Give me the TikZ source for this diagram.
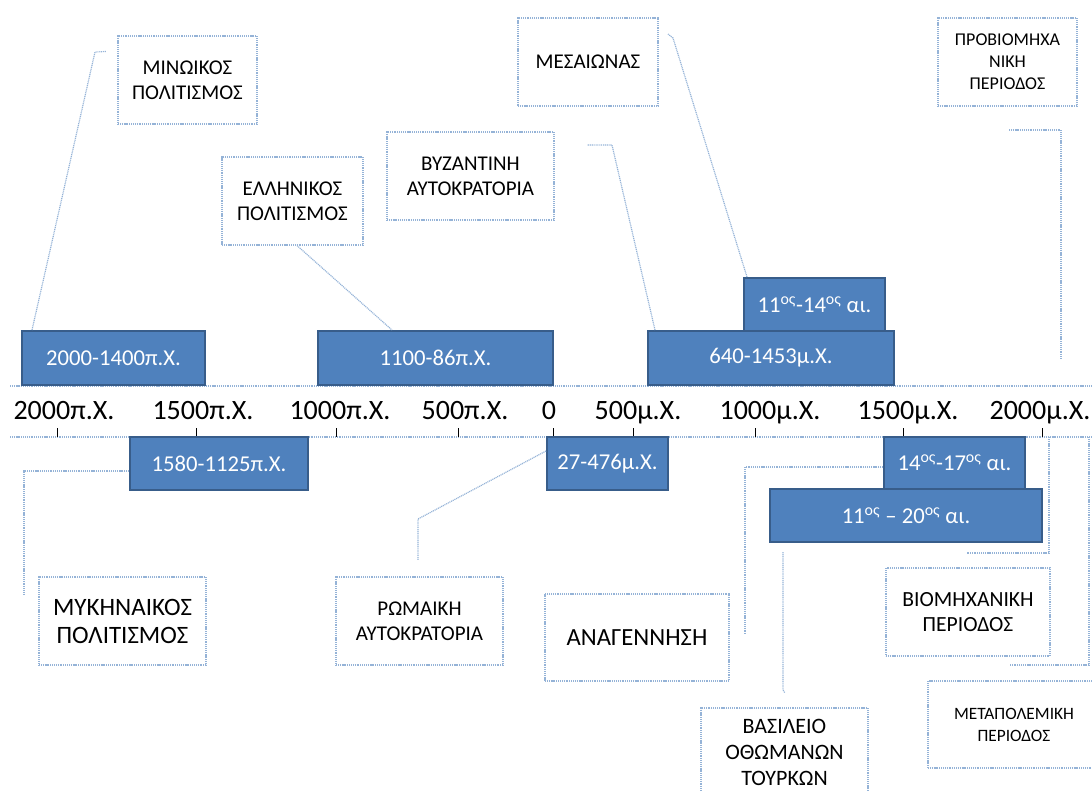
\documentclass[tikz,border=0pt]{standalone}
\usepackage{fontspec}
\setmainfont{Carlito}
\usetikzlibrary{calc}
\definecolor{barfill}{RGB}{79,129,189}
\definecolor{barline}{RGB}{56,93,138}
\definecolor{dotline}{RGB}{149,179,215}

\begin{document}
\begin{tikzpicture}[x=0.75pt,y=-0.75pt,
  size/.style 2 args={minimum width=#1*0.75pt, minimum height=#2*0.75pt},
  bar/.style={draw=barline, line width=1.5pt, fill=barfill, text=white,
    inner sep=0pt, font=\fontsize{17}{19}\selectfont},
  era/.style={draw=dotline, line width=0.8pt, dash pattern=on 0.8pt off 0.6pt,
    fill=white, align=center, inner sep=0pt,
    font=\fontsize{15.75}{18.75}\selectfont},
  link/.style={draw=dotline, line width=0.9pt, dash pattern=on 0.8pt off 0.6pt},
  yr/.style={anchor=base, inner sep=0pt, font=\fontsize{21}{25}\selectfont},
  tickmark/.style={draw=black, line width=0.75pt}]

\useasboundingbox (0,0) rectangle (1092,790);
\clip (0,0) rectangle (1092,790);

% time axis: two dotted rails
\coordinate (railTL) at (10,386);
\coordinate (railTR) at (1092,386);
\coordinate (railBL) at (10,437);
\coordinate (railBR) at (1092,437);
\draw[link] (railTL) -- (railTR);
\draw[link] (railBL) -- (railBR);

% year labels
\node[yr] (y2000bc) at (64,419)   {2000π.Χ.};
\node[yr] (y1500bc) at (203,419)  {1500π.Χ.};
\node[yr] (y1000bc) at (340,419)  {1000π.Χ.};
\node[yr] (y500bc)  at (465,419)  {500π.Χ.};
\node[yr] (y0)      at (549,419)  {0};
\node[yr] (y500ad)  at (638,419)  {500μ.Χ.};
\node[yr] (y1000ad) at (770,419)  {1000μ.Χ.};
\node[yr] (y1500ad) at (908,419)  {1500μ.Χ.};
\node[yr] (y2000ad) at (1040,419) {2000μ.Χ.};

% tick marks
\foreach \tx in {57,196,336,458,553,633,755,903,1042}
  \draw[tickmark] (\tx,428) -- (\tx,437);

% era boxes (dotted)
\node[era, size={139}{88}] (minoan)   at (187.5,80)  {ΜΙΝΩΙΚΟΣ\\ΠΟΛΙΤΙΣΜΟΣ};
\node[era, size={141}{88}] (hellenic) at (292.5,201) {ΕΛΛΗΝΙΚΟΣ\\ΠΟΛΙΤΙΣΜΟΣ};
\node[era, size={167}{88}] (byzant)   at (470.5,176) {ΒΥΖΑΝΤΙΝΗ\\ΑΥΤΟΚΡΑΤΟΡΙΑ};
\node[era, size={140}{88}] (medieval) at (588,62)    {ΜΕΣΑΙΩΝΑΣ};
\node[era, size={139}{88}, font=\fontsize{13.5}{16.5}\selectfont]
  (preind) at (1007.5,62) {ΠΡΟΒΙΟΜΗΧΑ\\ΝΙΚΗ\\ΠΕΡΙΟΔΟΣ};
\node[era, size={167}{88}, font=\fontsize{18.75}{21}\selectfont]
  (mycen) at (122.5,621) {ΜΥΚΗΝΑΙΚΟΣ\\ΠΟΛΙΤΙΣΜΟΣ};
\node[era, size={167}{88}] (roman)    at (419.5,621) {ΡΩΜΑΙΚΗ\\ΑΥΤΟΚΡΑΤΟΡΙΑ};
\node[era, size={184}{87}, font=\fontsize{18.5}{21}\selectfont]
  (renaiss) at (637,637.5) {ΑΝΑΓΕΝΝΗΣΗ};
\node[era, size={164}{88}, font=\fontsize{16.2}{18.75}\selectfont]
  (indust) at (968,612) {ΒΙΟΜΗΧΑΝΙΚΗ\\ΠΕΡΙΟΔΟΣ};
\node[era, size={167}{88}, font=\fontsize{16.5}{19.5}\selectfont]
  (ottoman) at (784.5,752) {ΒΑΣΙΛΕΙΟ\\ΟΘΩΜΑΝΩΝ\\ΤΟΥΡΚΩΝ};
\node[era, size={172}{87}, font=\fontsize{13}{16.5}\selectfont]
  (postwar) at (1014,724.5) {ΜΕΤΑΠΟΛΕΜΙΚΗ\\ΠΕΡΙΟΔΟΣ};

% date bars
\node[bar, size={183}{54}] (b1) at (113.5,358) {2000-1400π.Χ.};
\node[bar, size={235}{54}] (b2) at (435.5,358) {1100-86π.Χ.};
\node[bar, size={141}{53}] (b4) at (814.5,304.5) {11\textsuperscript{ος}-14\textsuperscript{ος} αι.};
\node[bar, size={246}{54}] (b3) at (771,358) {640-1453μ.Χ.};
\node[bar, size={178}{53}] (b5) at (219,463.5) {1580-1125π.Χ.};
\node[bar, size={121}{53}] (b6) at (607.5,463.5) {27-476μ.Χ.};
\node[bar, size={141}{52}] (b7) at (954.5,463) {14\textsuperscript{ος}-17\textsuperscript{ος} αι.};
\node[bar, size={272}{53}] (b8) at (906,515.5) {11\textsuperscript{ος} – 20\textsuperscript{ος} αι.};

% callout leaders
\draw[link] ($(b1.north west)+(11,0)$) -- (95,52) -- ($(minoan.north west)+(-11,16)$);
\draw[link] ($(hellenic.south)+(4.5,0)$) -- ($(b2.north west)+(75,0)$);
\draw[link] ($(b3.north west)+(8,0)$) -- (612,145) -- (587,145);
\draw[link] ($(b4.north west)+(4,0)$) -- (673,38) -- (668,34);
\coordinate (preA) at (1009,130);
\coordinate (preB) at (1061,130);
\coordinate (preC) at (1061,359);
\draw[link] (preA) -- (preB) -- (preC);
\draw[link] ($(b5.west)+(0,7.5)$) -- (24,471) -- (24,595);
\draw[link] ($(b6.north west)+(0,15)$) -- (418,519) -- ($(roman.north)+(-1.5,-16)$);
\draw[link] ($(b7.west)+(0,4)$) -- (745,467) -- (745,635);
\coordinate (ottA) at (783,552);
\coordinate (ottB) at (783,690);
\coordinate (ottC) at (785,693);
\draw[link] (ottA) -- (ottB) -- (ottC);
\coordinate (indA) at (1049,437);
\coordinate (indB) at (1049,553);
\coordinate (indC) at (967,553);
\draw[link] (indA) -- (indB) -- (indC);
\coordinate (postA) at (1089,437);
\coordinate (postB) at (1089,665);
\coordinate (postC) at (1010,665);
\draw[link] (postA) -- (postB) -- (postC);
\end{tikzpicture}
\end{document}
